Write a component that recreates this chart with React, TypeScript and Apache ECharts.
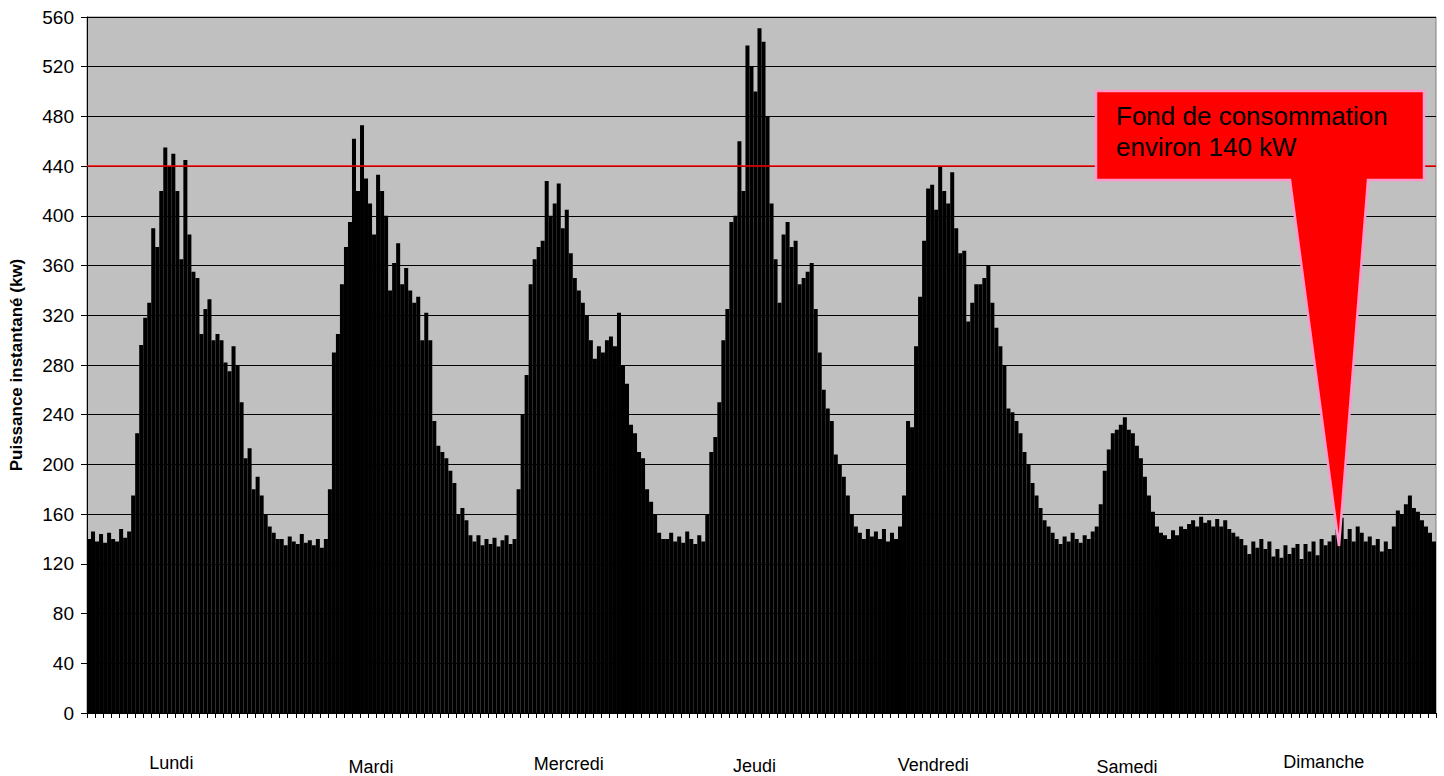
import React, { useEffect, useRef } from "react";
import * as echarts from "echarts";

// Day names (x-axis group labels)
const days = ["Lundi", "Mardi", "Mercredi", "Jeudi", "Vendredi", "Samedi", "Dimanche"];

// Half-hourly instantaneous power (kW), 48 values per day
const lundi = [
  140, 146, 138, 144, 137, 145, 140, 138, 148, 141, 146, 175,
  225, 296, 318, 330, 390, 375, 420, 455, 440, 450, 420, 365,
  445, 385, 355, 350, 305, 325, 333, 300, 305, 300, 282, 275,
  295, 280, 250, 205, 213, 180, 190, 175, 160, 150, 145, 140,
];
const mardi = [
  140, 135, 142, 138, 136, 144, 137, 139, 135, 140, 133, 140,
  180, 290, 305, 345, 375, 395, 462, 420, 473, 430, 410, 385,
  433, 420, 400, 340, 362, 378, 345, 358, 340, 330, 335, 300,
  322, 300, 235, 215, 210, 205, 195, 185, 160, 165, 155, 143,
];
const mercredi = [
  138, 143, 135, 140, 136, 141, 134, 139, 143, 136, 140, 180,
  240, 272, 345, 365, 375, 380, 428, 400, 410, 426, 390, 405,
  370, 350, 340, 330, 320, 300, 285, 295, 290, 300, 303, 295,
  322, 280, 265, 232, 225, 210, 205, 180, 170, 160, 145, 140,
];
const jeudi = [
  140, 145, 138, 142, 137, 146, 140, 136, 143, 138, 160, 210,
  222, 250, 300, 325, 395, 400, 460, 420, 537, 520, 500, 551,
  540, 480, 410, 365, 330, 385, 395, 375, 380, 345, 350, 355,
  362, 325, 290, 260, 245, 235, 208, 200, 190, 175, 160, 150,
];
const vendredi = [
  145, 140, 148, 142, 146, 140, 148, 138, 145, 140, 150, 175,
  235, 230, 295, 335, 380, 422, 425, 405, 440, 420, 410, 435,
  390, 370, 372, 315, 330, 345, 345, 350, 360, 330, 310, 295,
  280, 245, 242, 235, 225, 210, 200, 185, 175, 165, 155, 150,
];
const samedi = [
  145, 140, 136, 142, 138, 145, 140, 137, 143, 140, 146, 150,
  168, 195, 212, 225, 228, 232, 238, 228, 225, 215, 205, 190,
  175, 162, 150, 145, 143, 140, 147, 143, 150, 148, 152, 155,
  150, 158, 153, 155, 150, 156, 150, 155, 148, 145, 142, 140,
];
const dimanche = [
  135, 128, 138, 133, 140, 132, 138, 126, 132, 125, 135, 128,
  133, 136, 124, 136, 130, 138, 127, 140, 135, 138, 143, 148,
  157, 140, 148, 138, 150, 145, 138, 142, 135, 140, 130, 138,
  132, 150, 163, 160, 168, 175, 165, 162, 155, 150, 145, 138,
];

// Y-axis ticks
const yTicks = [0, 40, 80, 120, 160, 200, 240, 280, 320, 360, 400, 440, 480, 520, 560];
const thresholdValue = 440;

const weekValues = [lundi, mardi, mercredi, jeudi, vendredi, samedi, dimanche];
const slotLabels: string[] = [];
const values: number[] = [];
weekValues.forEach((dayVals, d) => {
  dayVals.forEach((v, i) => {
    const h = Math.floor(i / 2);
    const m = i % 2 === 0 ? "00" : "30";
    slotLabels.push(`${days[d]} ${String(h).padStart(2, "0")}:${m}`);
    values.push(v);
  });
});

const FONT = "'Liberation Sans', Arial, sans-serif";

// label layout tweaks (horizontal shift via right padding, vertical via top padding)
const labelRich: Record<string, any> = {};
const padRight = [24, 10, 0, 14, 42, 40, 32];
const padTop = [1, 5, 2, 4, 3, 5, 0];
days.forEach((d, i) => {
  labelRich["d" + i] = {
    fontSize: 18,
    fontFamily: FONT,
    color: "#000",
    padding: [padTop[i], padRight[i], 0, 0],
  };
});

export default function App() {
  const ref = useRef<HTMLDivElement>(null);
  useEffect(() => {
    if (!ref.current) return;
    const chart = echarts.init(ref.current, null, { renderer: "svg" });
    chart.setOption({
      animation: false,
      backgroundColor: "#ffffff",
      grid: {
        left: 86,
        right: 8,
        top: 17,
        bottom: 58,
        show: true,
        backgroundColor: "#C0C0C0",
        borderColor: "#808080",
        borderWidth: 1,
      },
      xAxis: [
        {
          type: "category",
          data: slotLabels,
          boundaryGap: true,
          axisLine: { show: true, lineStyle: { color: "#000", width: 1 } },
          axisTick: {
            show: true,
            length: 5,
            interval: (index: number) => index % 2 === 0,
            lineStyle: { color: "#000", width: 1 },
          },
          axisLabel: { show: false },
          splitLine: { show: false },
        },
        {
          type: "category",
          data: days,
          position: "bottom",
          boundaryGap: true,
          axisLine: { show: false },
          axisTick: { show: false },
          axisLabel: {
            show: true,
            interval: 0,
            margin: 40,
            formatter: (v: string) => `{d${days.indexOf(v)}|${v}}`,
            rich: labelRich,
          },
          splitLine: { show: false },
        },
      ],
      yAxis: {
        type: "value",
        min: yTicks[0],
        max: yTicks[yTicks.length - 1],
        interval: yTicks[1] - yTicks[0],
        name: "Puissance instantané (kw)",
        nameLocation: "middle",
        nameGap: 62,
        nameTextStyle: { fontFamily: FONT, fontSize: 17, fontWeight: "bold", color: "#000" },
        axisLine: { show: true, lineStyle: { color: "#000", width: 1 } },
        axisTick: { show: true, length: 6, lineStyle: { color: "#000" } },
        axisLabel: { fontFamily: FONT, fontSize: 19, color: "#000", margin: 13 },
        splitLine: { show: true, lineStyle: { color: "#000", width: 1 } },
      },
      series: [
        {
          type: "bar",
          data: values,
          xAxisIndex: 0,
          barCategoryGap: "0%",
          itemStyle: { color: "#000000" },
          silent: true,
          markLine: {
            silent: true,
            symbol: "none",
            label: { show: false },
            lineStyle: { color: "#FF0000", width: 1.5, type: "solid" },
            data: [{ yAxis: thresholdValue }],
          },
        },
      ],
      graphic: [
        {
          type: "polygon",
          z: 100,
          shape: {
            points: [
              [1096, 91],
              [1424, 91],
              [1424, 180],
              [1368, 180],
              [1339, 546],
              [1290, 180],
              [1096, 180],
            ],
          },
          style: { fill: "#FF0000", stroke: "#FF99CC", lineWidth: 2.5 },
        },
        {
          type: "text",
          z: 101,
          left: 1116,
          top: 100,
          style: {
            text: "Fond de consommation\nenviron 140 kW",
            fontFamily: FONT,
            fontSize: 26,
            lineHeight: 31,
            fill: "#000",
          },
        },
      ],
    });
    return () => chart.dispose();
  }, []);
  return (
    <div
      ref={ref}
      style={{ position: "absolute", left: 0, top: 0, width: 1444, height: 776 }}
    />
  );
}
